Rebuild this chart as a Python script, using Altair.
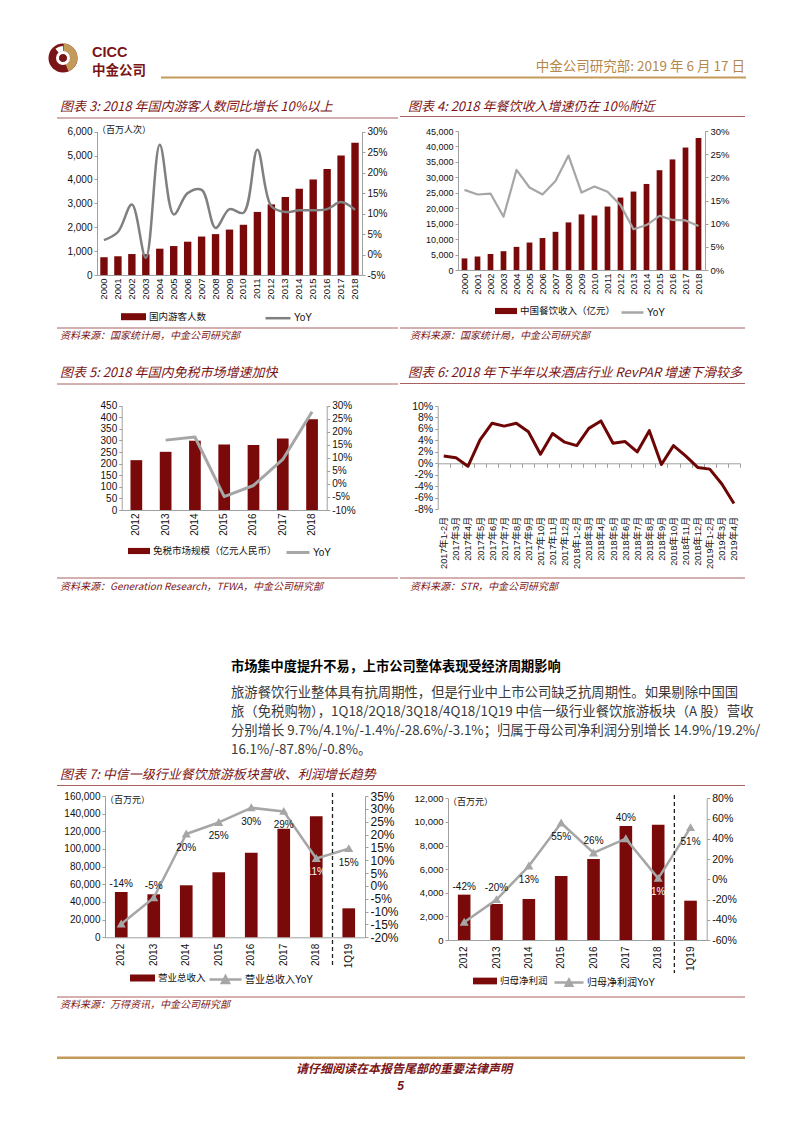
import altair as alt
import pandas as pd

YEARS_A = ["2000", "2001", "2002", "2003", "2004", "2005", "2006", "2007", "2008", "2009",
           "2010", "2011", "2012", "2013", "2014", "2015", "2016", "2017", "2018"]
TOURISTS = [744, 784, 878, 870, 1102, 1212, 1394, 1610, 1712, 1902,
            2103, 2641, 2957, 3262, 3611, 4000, 4440, 5001, 5539]
TOURISTS_YOY = [3.5, 5.5, 12.2, -0.8, 26.8, 9.8, 15.0, 15.8, 6.5, 11.1,
                10.2, 25.6, 11.8, 10.4, 10.8, 10.8, 11.1, 12.8, 10.9]
DINING = [3753, 4369, 5176, 6087, 7486, 8887, 10345, 12352, 15404, 17998,
          17648, 20543, 23448, 25392, 27860, 32310, 35799, 39644, 42716]
DINING_YOY = [17.3, 16.3, 16.5, 11.5, 21.6, 17.8, 16.3, 19.2, 24.7, 16.7,
              18.0, 16.9, 14.0, 8.8, 9.7, 11.7, 10.8, 10.7, 9.5]
YEARS_B = ["2012", "2013", "2014", "2015", "2016", "2017", "2018"]
DUTY_FREE = [215, 251, 299, 283, 280, 309, 392]
DUTY_FREE_YOY = [None, 16.8, 18.0, -4.9, -0.6, 9.4, 27.7]
MONTHS = ["2017年1-2月", "2017年3月", "2017年4月", "2017年5月", "2017年6月", "2017年7月",
          "2017年8月", "2017年9月", "2017年10月", "2017年11月", "2017年12月", "2018年1-2月",
          "2018年3月", "2018年4月", "2018年5月", "2018年6月", "2018年7月", "2018年8月",
          "2018年9月", "2018年10月", "2018年11月", "2018年12月", "2019年1-2月", "2019年3月",
          "2019年4月"]
REVPAR_YOY = [1.3, 1.0, -0.5, 4.1, 7.0, 6.5, 7.0, 5.5, 1.6, 5.2, 3.7, 3.1,
              6.1, 7.4, 3.5, 3.8, 2.0, 5.7, -0.2, 3.1, 1.3, -0.7, -1.0, -3.6, -7.0]
PERIODS = ["2012", "2013", "2014", "2015", "2016", "2017", "2018", "1Q19"]
REVENUE = [51300, 48700, 58900, 73600, 95800, 123000, 137000, 32800]
REVENUE_YOY = [-14.8, -4.6, 20.2, 24.7, 30.4, 29.0, 10.7, 14.5]
REVENUE_YOY_LABELS = ["-14%", "-5%", "20%", "25%", "30%", "29%", "11%", "15%"]
PROFIT = [3840, 3050, 3470, 5420, 6860, 9660, 9750, 3330]
PROFIT_YOY = [-42.5, -20.1, 13.1, 55.6, 26.0, 40.1, 0.9, 51.0]
PROFIT_YOY_LABELS = ["-42%", "-20%", "13%", "55%", "26%", "40%", "1%", "51%"]

TITLES = {
    3: "图表 3: 2018 年国内游客人数同比增长 10%以上",
    4: "图表 4: 2018 年餐饮收入增速仍在 10%附近",
    5: "图表 5: 2018 年国内免税市场增速加快",
    6: "图表 6: 2018 年下半年以来酒店行业 RevPAR 增速下滑较多",
    7: "图表 7: 中信一级行业餐饮旅游板块营收、利润增长趋势",
}
SRC_STATS = "资料来源：国家统计局，中金公司研究部"
SRC_DUTY = "资料来源：Generation Research，TFWA，中金公司研究部"
SRC_STR = "资料来源：STR，中金公司研究部"
SRC_WIND = "资料来源：万得资讯，中金公司研究部"
HEADING = "市场集中度提升不易，上市公司整体表现受经济周期影响"
BODY = ["旅游餐饮行业整体具有抗周期性，但是行业中上市公司缺乏抗周期性。如果剔除中国国",
        "旅（免税购物），1Q18/2Q18/3Q18/4Q18/1Q19 中信一级行业餐饮旅游板块（A 股）营收",
        "分别增长 9.7%/4.1%/-1.4%/-28.6%/-3.1%；归属于母公司净利润分别增长 14.9%/19.2%/",
        "16.1%/-87.8%/-0.8%。"]

# ---------------- styling / layout ----------------
W, H = 786, 1117
M = 8
BAR = "#7A0A0A"
DEEP = "#7B1416"
GOLD = "#C49A5A"
GRAY = "#A6A6A6"
AXIS_C = "#A0A0A0"
TXT = "#111111"
RED_LINE = "#A86060"
FONT_LAT = "Liberation Sans"
FONT_CJK = "Noto Sans CJK SC"
FONT_MIX = "Liberation Sans, Noto Sans CJK SC"


def px(v):
    return v - M


def band(domain, x0, x1, pad):
    return alt.Scale(type="band", domain=domain, range=[px(x0), px(x1)],
                     paddingInner=pad, paddingOuter=pad / 2)


def lin(lo, hi, y_lo, y_hi):
    return alt.Scale(type="linear", domain=[lo, hi], range=[px(y_lo), px(y_hi)],
                     nice=False, zero=False)


def x_axis(y_line, fs, pad):
    return alt.Axis(orient="bottom", offset=px(y_line) - H, labelAngle=270,
                    labelFont=FONT_MIX, labelFontSize=fs, labelColor=TXT,
                    labelPadding=pad, domainColor=AXIS_C, ticks=False, grid=False,
                    title=None, labelOverlap=False)


def y_axis(orient, x_line, values, fs, pct):
    off = -px(x_line) if orient == "left" else px(x_line) - W
    d = dict(orient=orient, offset=off, values=values, labelFont=FONT_LAT,
             labelFontSize=fs, labelColor=TXT, labelPadding=2, domainColor=AXIS_C,
             tickColor=AXIS_C, tickSize=3, grid=False, title=None,
             labelOverlap=False, labelFlush=False)
    if pct:
        d["labelExpr"] = "datum.value + '%'"
    else:
        d["format"] = ",d"
    return alt.Axis(**d)


def bar_legend(x, yc, w):
    return alt.Legend(orient="none", legendX=px(x), legendY=px(yc) - w / 2, title=None,
                      symbolType="M-1,-0.28H1V0.28H-1Z", symbolSize=w * w,
                      symbolStrokeWidth=0, labelFont=FONT_MIX, labelFontSize=9.5,
                      labelColor=TXT, labelOffset=3, padding=0)


def line_legend(x, yc, w, sym="stroke", sw=2.5):
    return alt.Legend(orient="none", legendX=px(x), legendY=px(yc) - w / 2, title=None,
                      symbolType=sym, symbolSize=w * w, symbolStrokeWidth=sw,
                      symbolFillColor=GRAY, labelFont=FONT_MIX, labelFontSize=10,
                      labelColor=TXT, labelOffset=2, padding=0)


def bars(cats, vals, name, xs, xaxis, ys, yaxis, legend):
    df = pd.DataFrame({"cat": cats, "v": vals, "s": name})
    return alt.Chart(df).mark_bar(color=BAR).encode(
        x=alt.X("cat:N", scale=xs, axis=xaxis, sort=None, title=None),
        y=alt.Y("v:Q", scale=ys, axis=yaxis, title=None),
        color=alt.Color("s:N", scale=alt.Scale(domain=[name], range=[BAR]), legend=legend),
    )


def line(cats, vals, name, xs, ys, yaxis, color, width, legend, interp="linear",
         point=None, xaxis=None):
    df = pd.DataFrame({"cat": cats, "v": vals, "s": name}).dropna()
    kw = dict(strokeWidth=width, interpolate=interp, strokeJoin="round")
    if point is not None:
        kw["point"] = point
    enc = dict(
        x=alt.X("cat:N", scale=xs, axis=xaxis, sort=None, title=None, bandPosition=0.5),
        y=alt.Y("v:Q", scale=ys, axis=yaxis, title=None),
    )
    if legend is not None:
        enc["stroke"] = alt.Stroke("s:N", scale=alt.Scale(domain=[name], range=[color]),
                                   legend=legend)
        return alt.Chart(df).mark_line(**kw).encode(**enc)
    return alt.Chart(df).mark_line(color=color, **kw).encode(**enc)


def txt(s, x, y, size, color=TXT, font=FONT_CJK, weight="normal", style="normal",
        align="left"):
    return alt.Chart(pd.DataFrame({"t": [s]})).mark_text(
        align=align, baseline="middle", fontSize=size, font=font, fontWeight=weight,
        fontStyle=style, color=color).encode(text="t:N", x=alt.value(px(x)), y=alt.value(px(y)))


def hline(x0, x1, y, color, width):
    return alt.Chart(pd.DataFrame({"a": [0]})).mark_rule(color=color, strokeWidth=width).encode(
        x=alt.value(px(x0)), x2=alt.value(px(x1)), y=alt.value(px(y)))


def title_block(key, x, y, x0, x1, yline):
    return [txt(TITLES[key], x, y, 13, color=DEEP, style="italic"),
            hline(x0, x1, yline, RED_LINE, 1)]


def source(s, x, y):
    return txt(s, x, y, 10, color=DEEP, style="italic")


layers = []

# ---------------- header ----------------
def arc(t0, t1, r, r2, color, cx=63, cy=58):
    return alt.Chart(pd.DataFrame({"a": [0]})).mark_arc(
        theta=t0, theta2=t1, radius=r, radius2=r2, color=color).encode(
        x=alt.value(px(cx)), y=alt.value(px(cy)))

layers += [
    arc(0, 6.2832, 14.5, 0, DEEP),
    arc(0.05, 2.75, 14.5, 6.5, GOLD),
    arc(5.6, 6.2832, 12, 6.5, "white"),
    arc(0, 6.2832, 7, 3.8, "white"),
    arc(0, 6.2832, 3.8, 0, DEEP),
    txt("CICC", 92, 52.5, 14.5, color=DEEP, font=FONT_LAT, weight="bold"),
    txt("中金公司", 92, 71, 13.5, color=DEEP, weight="bold"),
    txt("中金公司研究部: 2019 年 6 月 17 日", 745, 67, 13.5, color="#B5874A", align="right"),
    hline(161, 746, 77.5, GOLD, 2),
]

# ---------------- chart 3 ----------------
xs3 = band(YEARS_A, 97, 362, 0.47)
layers += title_block(3, 60, 107, 57, 398, 118)
layers += [
    bars(YEARS_A, TOURISTS, "国内游客人数", xs3, x_axis(275, 9.5, 3),
         lin(0, 6000, 275, 131.7), y_axis("left", 97, list(range(0, 6001, 1000)), 10, False),
         bar_legend(121, 316.7, 25)),
    line(YEARS_A, TOURISTS_YOY, "YoY", xs3, lin(-5, 30, 275, 131.7),
         y_axis("right", 362, list(range(-5, 31, 5)), 10, True), "#808080", 2.5,
         line_legend(264, 316.7, 25), interp="catmull-rom"),
    txt("（百万人次）", 97, 129.5, 9),
    hline(57, 398, 328, RED_LINE, 1),
    source(SRC_STATS, 60, 336),
]

# ---------------- chart 4 ----------------
xs4 = band(YEARS_A, 458, 705, 0.56)
layers += title_block(4, 408, 107, 400, 745, 116.5)
layers += [
    bars(YEARS_A, DINING, "中国餐饮收入（亿元）", xs4, x_axis(270, 9.5, 3),
         lin(0, 45000, 270, 131), y_axis("left", 458, list(range(0, 45001, 5000)), 9, False),
         bar_legend(495, 311, 22)),
    line(YEARS_A, DINING_YOY, "YoY", xs4, lin(0, 30, 270, 131),
         y_axis("right", 705, list(range(0, 31, 5)), 9.5, True), GRAY, 2.2,
         line_legend(620, 311, 22)),
    hline(400, 745, 328, RED_LINE, 1),
    source(SRC_STATS, 410, 336),
]

# ---------------- chart 5 ----------------
xs5 = band(YEARS_B, 121.7, 326.7, 0.6)
layers += title_block(5, 60, 373, 57, 398, 384)
layers += [
    bars(YEARS_B, DUTY_FREE, "免税市场规模（亿元人民币）", xs5, x_axis(510, 10, 3),
         lin(0, 450, 510, 405.7), y_axis("left", 121.7, list(range(0, 451, 50)), 10, False),
         bar_legend(128, 551, 22)),
    line(YEARS_B, DUTY_FREE_YOY, "YoY", xs5, lin(-10, 30, 510, 405.7),
         y_axis("right", 326.7, list(range(-10, 31, 5)), 10, True), GRAY, 3,
         line_legend(285, 551, 23, sw=3)),
    hline(57, 398, 578, RED_LINE, 1),
    source(SRC_DUTY, 60, 587),
]

# ---------------- chart 6 ----------------
xs6 = band(MONTHS, 437.7, 740, 0)
x6_axis = alt.Axis(orient="bottom", offset=px(463.3) - H, labelAngle=270, tickBand="extent",
                   tickSize=4, tickColor=AXIS_C, domainColor=AXIS_C, labelPadding=49,
                   labelFont=FONT_MIX, labelFontSize=9.2, labelColor=TXT, grid=False,
                   title=None, labelOverlap=False)
layers += title_block(6, 408, 373, 400, 745, 383.5)
layers += [
    line(MONTHS, REVPAR_YOY, "RevPAR", xs6, lin(-8, 10, 509.3, 406),
         y_axis("left", 437.7, list(range(-8, 11, 2)), 10.5, True), "#6E0505", 3, None,
         xaxis=x6_axis),
    hline(400, 745, 578, RED_LINE, 1),
    source(SRC_STR, 410, 587),
]

# ---------------- text section ----------------
layers.append(txt(HEADING, 231, 667, 13.2, color="#000000", weight="bold"))
for s, yy in zip(BODY, [692.5, 711.7, 730.6, 749.6]):
    layers.append(txt(s, 231, yy, 13.35, color="#3A3A3A"))

# ---------------- chart 7 ----------------
layers += title_block(7, 60, 775, 57, 745, 785.5)

TRI = alt.OverlayMarkDef(filled=True, shape="triangle-up", size=32, color=GRAY)
TRI_SYM = "M-1,0H1M-0.22,0.22L0,-0.2L0.22,0.22Z"


def panel7(vals, yoy, labels, name, name_yoy, x0, x1, y0, ytop, vmax, vstep, plo, phi, pstep,
           fs_left, fs_right, legend_bar, legend_line, groups, dash_y, unit_pos):
    xs = band(PERIODS, x0, x1, 0.61)
    ys_v = lin(0, vmax, y0, ytop)
    ys_p = lin(plo, phi, y0, ytop)
    out = [
        bars(PERIODS, vals, name, xs, x_axis(y0, 10, 6), ys_v,
             y_axis("left", x0, list(range(0, vmax + 1, vstep)), fs_left, False), legend_bar),
        line(PERIODS, yoy, name_yoy, xs, ys_p,
             y_axis("right", x1, list(range(plo, phi + 1, pstep)), fs_right, True), GRAY, 2.5,
             legend_line, point=TRI),
    ]
    df = pd.DataFrame({"cat": PERIODS, "v": vals, "p": yoy, "lab": labels})
    colr = alt.condition(alt.FieldEqualPredicate(field="cat", equal="2018"),
                         alt.value("white"), alt.value(TXT))
    for grp, field, dy, ys in [("bar_above", "v", -8, ys_v), ("pt_above", "p", -12, ys_p),
                               ("pt_below", "p", 14, ys_p)]:
        if not groups[grp]:
            continue
        out.append(
            alt.Chart(df).transform_filter(alt.FieldOneOfPredicate(field="cat", oneOf=groups[grp]))
            .mark_text(dy=dy, fontSize=10, font=FONT_LAT, baseline="middle")
            .encode(x=alt.X("cat:N", scale=xs, axis=None, sort=None, bandPosition=0.5),
                    y=alt.Y(f"{field}:Q", scale=ys, axis=None),
                    text="lab:N", color=colr))
    step = (x1 - x0) / len(PERIODS)
    out.append(
        alt.Chart(pd.DataFrame({"cat": ["1Q19"]}))
        .mark_rule(color="#222222", strokeWidth=1.3, strokeDash=[4, 3], xOffset=-0.61 * step / 2)
        .encode(x=alt.X("cat:N", scale=xs, axis=None, bandPosition=0),
                y=alt.value(px(dash_y[0])), y2=alt.value(px(dash_y[1]))))
    out.append(txt("（百万元）", unit_pos[0], unit_pos[1], 9))
    return out


layers += panel7(REVENUE, REVENUE_YOY, REVENUE_YOY_LABELS, "营业总收入", "营业总收入YoY",
                 105, 365, 937.3, 796, 160000, 20000, -20, 35, 5, 10, 12,
                 bar_legend(130, 978, 25), line_legend(208, 978, 32, sym=TRI_SYM),
                 {"bar_above": ["2012"], "pt_above": ["2013"],
                  "pt_below": ["2014", "2015", "2016", "2017", "2018", "1Q19"]},
                 (793, 965), (105, 800))
layers += panel7(PROFIT, PROFIT_YOY, PROFIT_YOY_LABELS, "归母净利润", "归母净利润YoY",
                 448, 706.7, 940, 798.3, 12000, 2000, -60, 80, 20, 9.5, 10.5,
                 bar_legend(473, 981, 24), line_legend(553, 981, 29, sym=TRI_SYM),
                 {"bar_above": ["2012", "2017"], "pt_above": ["2013", "2016"],
                  "pt_below": ["2014", "2015", "2018", "1Q19"]},
                 (795, 973), (448, 802))
layers += [
    hline(57, 745, 997, RED_LINE, 1),
    source(SRC_WIND, 60, 1005),
]

# ---------------- footer ----------------
layers += [
    hline(57, 745, 1057.7, GOLD, 2.5),
    txt("请仔细阅读在本报告尾部的重要法律声明", 404, 1068.5, 12, color=DEEP, weight="bold",
        style="italic", align="center"),
    txt("5", 400.5, 1086, 12, color=DEEP, font=FONT_LAT, weight="bold", style="italic",
        align="center"),
]

chart = (
    alt.layer(*layers)
    .resolve_scale(x="independent", y="independent", color="independent", stroke="independent")
    .resolve_axis(x="independent", y="independent")
    .resolve_legend(color="independent", stroke="independent")
    .properties(width=W, height=H, autosize=alt.AutoSizeParams(type="none"), padding=0)
    .configure(background="white")
    .configure_view(stroke=None)
)

chart.save("out.html", embed_options={"renderer": "svg", "actions": False})
